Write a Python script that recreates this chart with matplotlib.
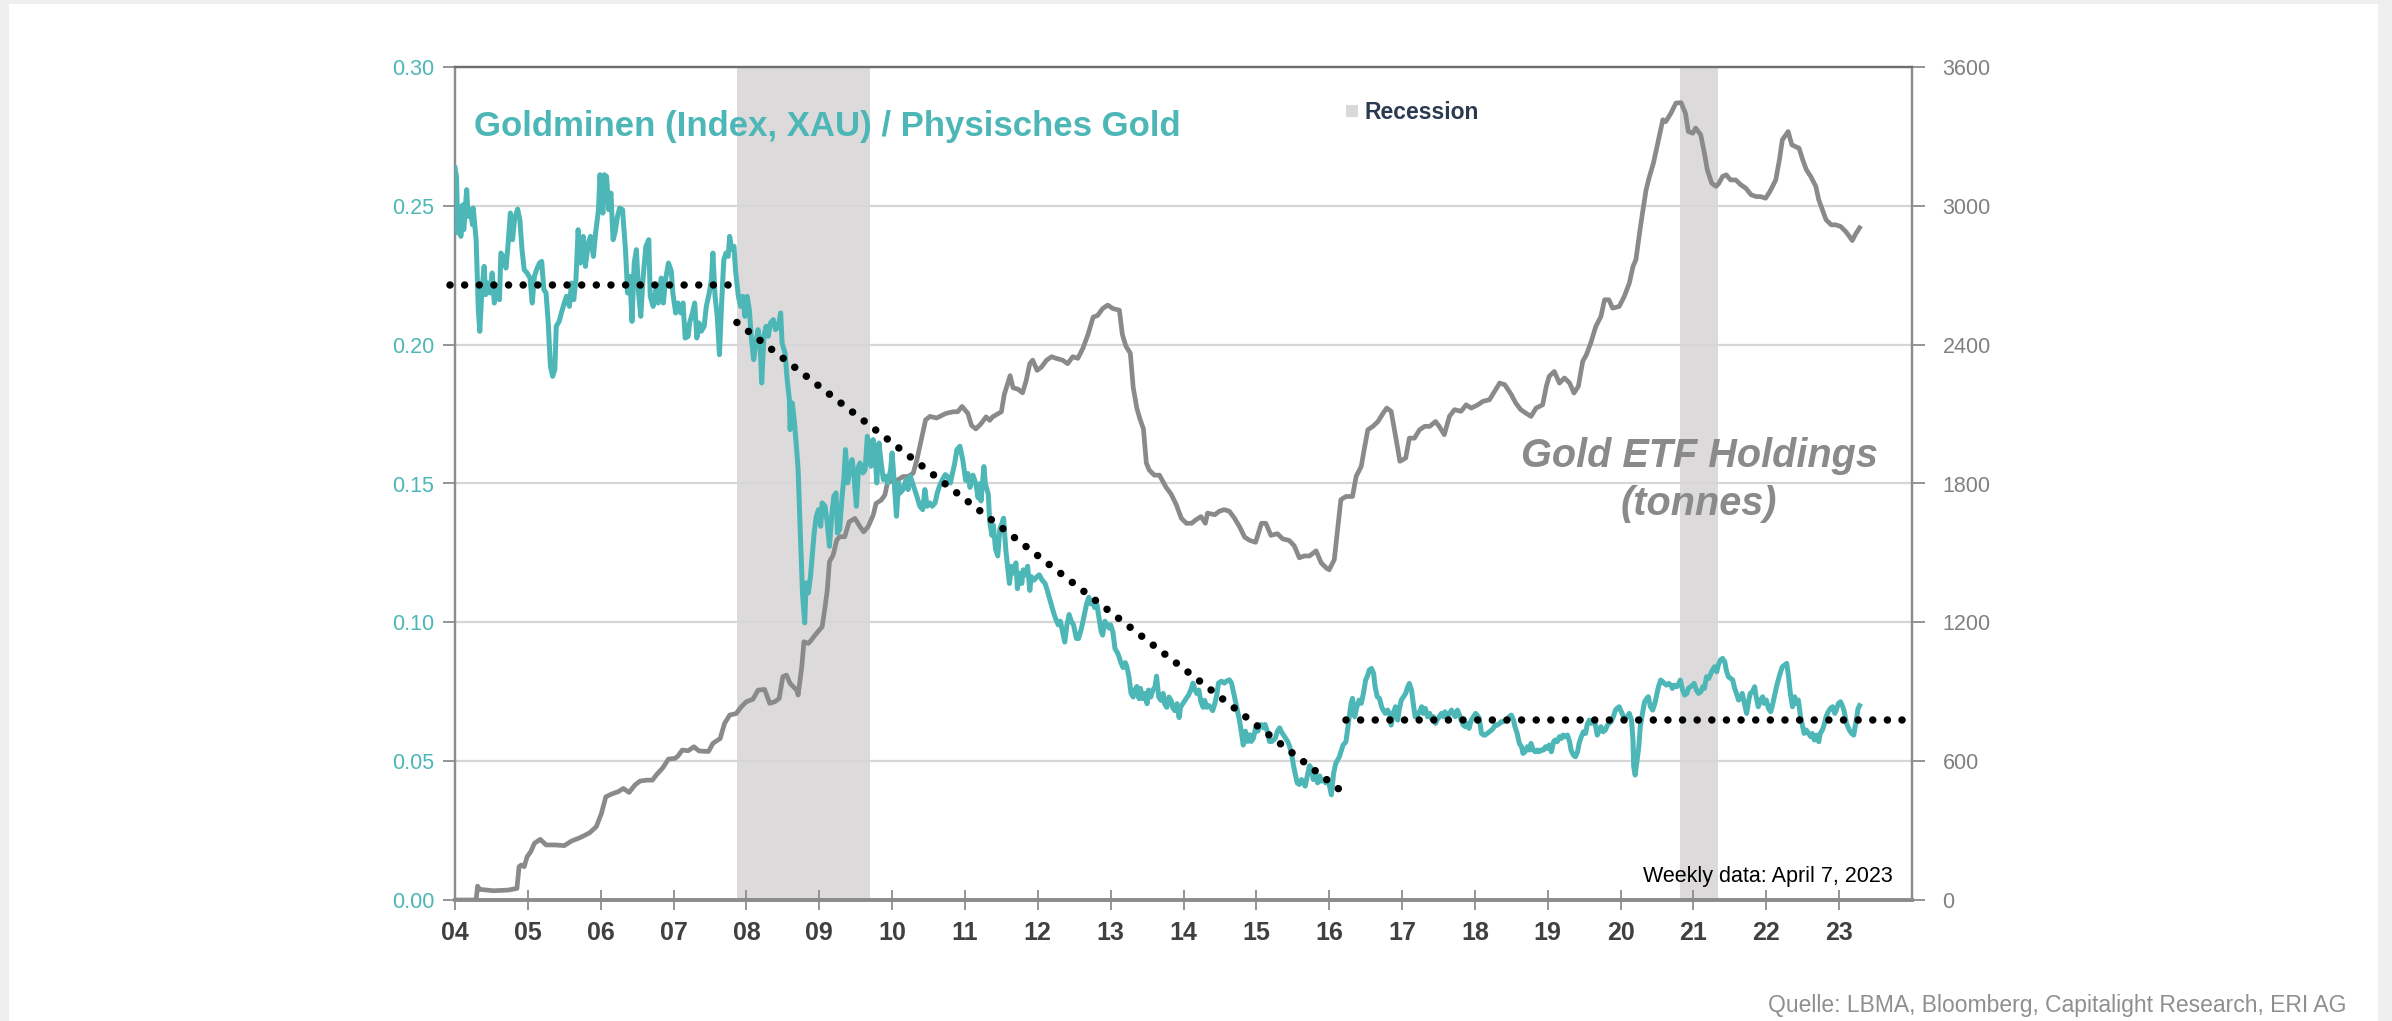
import matplotlib
matplotlib.use("Agg")
import matplotlib.pyplot as plt
from matplotlib.patches import Rectangle

plt.rcParams['font.family'] = ['Liberation Sans', 'DejaVu Sans']

# Goldminen (XAU) / physisches Gold, weekly (decimal year, ratio)
ratio_2004_2010 = [
    (2004.00, 0.2636), (2004.02, 0.2606), (2004.04, 0.2402), (2004.06, 0.2498), (2004.08, 0.2390),
    (2004.11, 0.2504), (2004.12, 0.2414), (2004.16, 0.2558), (2004.18, 0.2462), (2004.21, 0.2486),
    (2004.24, 0.2432), (2004.25, 0.2492), (2004.29, 0.2378), (2004.32, 0.2126), (2004.34, 0.2048),
    (2004.37, 0.2198), (2004.40, 0.2282), (2004.42, 0.2180), (2004.45, 0.2222), (2004.48, 0.2186),
    (2004.51, 0.2258), (2004.54, 0.2150), (2004.57, 0.2198), (2004.61, 0.2162), (2004.63, 0.2330),
    (2004.66, 0.2318), (2004.70, 0.2276), (2004.73, 0.2366), (2004.76, 0.2474), (2004.79, 0.2378),
    (2004.82, 0.2456), (2004.86, 0.2488), (2004.89, 0.2450), (2004.92, 0.2342), (2004.95, 0.2270),
    (2004.99, 0.2258), (2005.03, 0.2240), (2005.06, 0.2150), (2005.09, 0.2246), (2005.12, 0.2270),
    (2005.16, 0.2294), (2005.19, 0.2300), (2005.22, 0.2198), (2005.25, 0.2186), (2005.28, 0.2078),
    (2005.31, 0.1922), (2005.34, 0.1886), (2005.37, 0.1910), (2005.39, 0.2066), (2005.43, 0.2084),
    (2005.46, 0.2114), (2005.50, 0.2150), (2005.53, 0.2174), (2005.57, 0.2138), (2005.60, 0.2222),
    (2005.63, 0.2162), (2005.66, 0.2234), (2005.69, 0.2414), (2005.72, 0.2294), (2005.76, 0.2390),
    (2005.79, 0.2282), (2005.83, 0.2366), (2005.86, 0.2390), (2005.90, 0.2318), (2005.93, 0.2402),
    (2005.97, 0.2486), (2005.99, 0.2612), (2006.03, 0.2474), (2006.05, 0.2612), (2006.08, 0.2606),
    (2006.11, 0.2486), (2006.14, 0.2546), (2006.17, 0.2378), (2006.20, 0.2408), (2006.23, 0.2462),
    (2006.26, 0.2492), (2006.30, 0.2486), (2006.34, 0.2342), (2006.37, 0.2186), (2006.40, 0.2246),
    (2006.43, 0.2084), (2006.46, 0.2294), (2006.49, 0.2342), (2006.52, 0.2186), (2006.55, 0.2102),
    (2006.58, 0.2234), (2006.62, 0.2354), (2006.66, 0.2378), (2006.68, 0.2174), (2006.72, 0.2138),
    (2006.76, 0.2198), (2006.79, 0.2150), (2006.83, 0.2240), (2006.86, 0.2150), (2006.89, 0.2234),
    (2006.93, 0.2294), (2006.97, 0.2264), (2006.99, 0.2186), (2007.03, 0.2114), (2007.06, 0.2150),
    (2007.10, 0.2114), (2007.13, 0.2150), (2007.16, 0.2024), (2007.20, 0.2030), (2007.22, 0.2078),
    (2007.26, 0.2114), (2007.29, 0.2150), (2007.32, 0.2024), (2007.35, 0.2078), (2007.38, 0.2048),
    (2007.42, 0.2066), (2007.45, 0.2138), (2007.49, 0.2186), (2007.52, 0.2234), (2007.54, 0.2330),
    (2007.57, 0.2174), (2007.60, 0.2102), (2007.63, 0.1964), (2007.66, 0.2150), (2007.69, 0.2306),
    (2007.72, 0.2330), (2007.75, 0.2318), (2007.77, 0.2390), (2007.80, 0.2342), (2007.83, 0.2354),
    (2007.85, 0.2270), (2007.89, 0.2174), (2007.92, 0.2138), (2007.95, 0.2174), (2007.98, 0.2102),
    (2008.01, 0.2174), (2008.04, 0.2126), (2008.07, 0.2018), (2008.10, 0.1946), (2008.13, 0.2006),
    (2008.16, 0.2054), (2008.19, 0.1994), (2008.21, 0.1862), (2008.24, 0.2030), (2008.27, 0.2066),
    (2008.30, 0.2030), (2008.33, 0.2078), (2008.37, 0.2090), (2008.40, 0.2054), (2008.44, 0.2066),
    (2008.47, 0.2114), (2008.49, 0.2006), (2008.53, 0.1970), (2008.56, 0.1874), (2008.59, 0.1802),
    (2008.60, 0.1694), (2008.63, 0.1790), (2008.66, 0.1718), (2008.69, 0.1622), (2008.71, 0.1550),
    (2008.74, 0.1322), (2008.77, 0.1106), (2008.80, 0.0998), (2008.82, 0.1142), (2008.85, 0.1106),
    (2008.88, 0.1166), (2008.91, 0.1262), (2008.93, 0.1322), (2008.96, 0.1382), (2008.99, 0.1406),
    (2009.02, 0.1346), (2009.04, 0.1430), (2009.08, 0.1418), (2009.11, 0.1358), (2009.14, 0.1274),
    (2009.17, 0.1382), (2009.20, 0.1454), (2009.23, 0.1466), (2009.25, 0.1322), (2009.28, 0.1334),
    (2009.31, 0.1442), (2009.34, 0.1526), (2009.36, 0.1622), (2009.39, 0.1502), (2009.42, 0.1550),
    (2009.45, 0.1586), (2009.47, 0.1550), (2009.51, 0.1418), (2009.54, 0.1562), (2009.56, 0.1574),
    (2009.60, 0.1538), (2009.63, 0.1550), (2009.66, 0.1670), (2009.68, 0.1646), (2009.71, 0.1562),
    (2009.74, 0.1658), (2009.77, 0.1586), (2009.79, 0.1502), (2009.82, 0.1646), (2009.85, 0.1574),
    (2009.88, 0.1514), (2009.91, 0.1526), (2009.94, 0.1502), (2009.98, 0.1550), (2010.00, 0.1610),
    (2010.03, 0.1502), (2010.06, 0.1382), (2010.09, 0.1502), (2010.11, 0.1466), (2010.15, 0.1478),
    (2010.19, 0.1514), (2010.22, 0.1478), (2010.25, 0.1526), (2010.28, 0.1502), (2010.31, 0.1478),
    (2010.34, 0.1454), (2010.38, 0.1418), (2010.42, 0.1406), (2010.45, 0.1478), (2010.48, 0.1418),
    (2010.52, 0.1430), (2010.55, 0.1418), (2010.59, 0.1430), (2010.62, 0.1466), (2010.65, 0.1490),
    (2010.69, 0.1514), (2010.73, 0.1532), (2010.76, 0.1526), (2010.80, 0.1502), (2010.84, 0.1550),
    (2010.86, 0.1574), (2010.89, 0.1622), (2010.93, 0.1634),
]

ratio_2011_2015 = [
    (2010.94, 0.1623), (2010.97, 0.1585), (2011.01, 0.1511), (2011.04, 0.1536), (2011.07, 0.1486),
    (2011.11, 0.1530), (2011.15, 0.1499), (2011.18, 0.1449), (2011.20, 0.1499), (2011.22, 0.1437),
    (2011.26, 0.1561), (2011.28, 0.1499), (2011.32, 0.1462), (2011.34, 0.1363), (2011.37, 0.1313),
    (2011.39, 0.1350), (2011.42, 0.1264), (2011.45, 0.1239), (2011.48, 0.1338), (2011.50, 0.1350),
    (2011.53, 0.1375), (2011.56, 0.1264), (2011.59, 0.1189), (2011.61, 0.1140), (2011.64, 0.1202),
    (2011.67, 0.1177), (2011.70, 0.1214), (2011.72, 0.1121), (2011.75, 0.1177), (2011.78, 0.1140),
    (2011.80, 0.1189), (2011.83, 0.1171), (2011.86, 0.1202), (2011.89, 0.1115), (2011.91, 0.1165),
    (2011.95, 0.1152), (2011.99, 0.1165), (2012.02, 0.1171), (2012.06, 0.1152), (2012.10, 0.1140),
    (2012.13, 0.1115), (2012.17, 0.1078), (2012.21, 0.1041), (2012.24, 0.1016), (2012.28, 0.0991),
    (2012.31, 0.1004), (2012.35, 0.0954), (2012.37, 0.0929), (2012.40, 0.0991), (2012.43, 0.1028),
    (2012.46, 0.1004), (2012.49, 0.0991), (2012.53, 0.0942), (2012.56, 0.0942), (2012.60, 0.0979),
    (2012.63, 0.1016), (2012.67, 0.1066), (2012.70, 0.1090), (2012.73, 0.1066), (2012.76, 0.1078),
    (2012.78, 0.1053), (2012.81, 0.1066), (2012.84, 0.1016), (2012.87, 0.0967), (2012.89, 0.0954),
    (2012.92, 0.1004), (2012.95, 0.0991), (2012.98, 0.0979), (2013.00, 0.0991), (2013.03, 0.0967),
    (2013.06, 0.0905), (2013.09, 0.0892), (2013.11, 0.0880), (2013.14, 0.0855), (2013.17, 0.0837),
    (2013.20, 0.0855), (2013.22, 0.0843), (2013.25, 0.0806), (2013.28, 0.0744), (2013.31, 0.0731),
    (2013.33, 0.0756), (2013.36, 0.0769), (2013.39, 0.0725), (2013.41, 0.0762), (2013.44, 0.0725),
    (2013.47, 0.0744), (2013.50, 0.0707), (2013.52, 0.0756), (2013.55, 0.0731), (2013.58, 0.0756),
    (2013.61, 0.0769), (2013.63, 0.0806), (2013.66, 0.0731), (2013.69, 0.0719), (2013.72, 0.0744),
    (2013.74, 0.0707), (2013.77, 0.0694), (2013.80, 0.0731), (2013.83, 0.0719), (2013.85, 0.0694),
    (2013.88, 0.0682), (2013.91, 0.0707), (2013.94, 0.0657), (2013.96, 0.0694), (2013.99, 0.0707),
    (2014.02, 0.0719), (2014.05, 0.0731), (2014.07, 0.0738), (2014.10, 0.0756), (2014.13, 0.0781),
    (2014.16, 0.0756), (2014.18, 0.0744), (2014.21, 0.0756), (2014.24, 0.0713), (2014.27, 0.0694),
    (2014.29, 0.0719), (2014.32, 0.0694), (2014.35, 0.0700), (2014.37, 0.0694), (2014.40, 0.0682),
    (2014.43, 0.0707), (2014.46, 0.0744), (2014.48, 0.0781), (2014.52, 0.0788), (2014.56, 0.0781),
    (2014.59, 0.0788), (2014.63, 0.0793), (2014.66, 0.0781), (2014.69, 0.0744), (2014.71, 0.0719),
    (2014.74, 0.0682), (2014.77, 0.0645), (2014.80, 0.0595), (2014.82, 0.0558), (2014.85, 0.0608),
    (2014.88, 0.0571), (2014.91, 0.0595), (2014.93, 0.0571), (2014.96, 0.0583), (2014.99, 0.0620),
    (2015.02, 0.0608), (2015.04, 0.0620), (2015.07, 0.0632), (2015.10, 0.0620), (2015.12, 0.0632),
    (2015.15, 0.0608), (2015.18, 0.0571), (2015.21, 0.0571), (2015.24, 0.0577), (2015.26, 0.0583),
    (2015.29, 0.0608), (2015.32, 0.0620), (2015.34, 0.0608), (2015.37, 0.0595), (2015.40, 0.0583),
    (2015.43, 0.0571), (2015.45, 0.0558), (2015.48, 0.0533), (2015.51, 0.0484), (2015.54, 0.0447),
    (2015.56, 0.0422), (2015.59, 0.0416), (2015.62, 0.0434), (2015.65, 0.0422), (2015.67, 0.0410),
    (2015.70, 0.0447), (2015.73, 0.0484), (2015.76, 0.0472), (2015.78, 0.0434), (2015.81, 0.0459),
    (2015.84, 0.0422), (2015.87, 0.0447), (2015.89, 0.0428), (2015.92, 0.0434), (2015.95, 0.0422),
    (2015.98, 0.0428), (2016.00, 0.0416),
]

ratio_2016_2023 = [
    (2016.03, 0.0379), (2016.06, 0.0456), (2016.09, 0.0492), (2016.14, 0.0516), (2016.19, 0.0558),
    (2016.23, 0.0570), (2016.27, 0.0648), (2016.30, 0.0708), (2016.32, 0.0726), (2016.35, 0.0660),
    (2016.38, 0.0696), (2016.41, 0.0720), (2016.44, 0.0708), (2016.47, 0.0744), (2016.50, 0.0792),
    (2016.53, 0.0810), (2016.55, 0.0828), (2016.58, 0.0834), (2016.61, 0.0816), (2016.63, 0.0768),
    (2016.66, 0.0732), (2016.69, 0.0726), (2016.72, 0.0696), (2016.74, 0.0684), (2016.77, 0.0672),
    (2016.80, 0.0684), (2016.83, 0.0672), (2016.85, 0.0630), (2016.88, 0.0672), (2016.91, 0.0696),
    (2016.94, 0.0648), (2016.96, 0.0684), (2016.99, 0.0720), (2017.02, 0.0732), (2017.05, 0.0744),
    (2017.07, 0.0762), (2017.10, 0.0780), (2017.13, 0.0756), (2017.16, 0.0696), (2017.18, 0.0660),
    (2017.21, 0.0666), (2017.24, 0.0678), (2017.27, 0.0696), (2017.29, 0.0672), (2017.32, 0.0690),
    (2017.35, 0.0660), (2017.38, 0.0672), (2017.40, 0.0654), (2017.43, 0.0660), (2017.46, 0.0636),
    (2017.48, 0.0648), (2017.51, 0.0660), (2017.54, 0.0672), (2017.57, 0.0660), (2017.59, 0.0678),
    (2017.62, 0.0660), (2017.65, 0.0672), (2017.68, 0.0684), (2017.70, 0.0672), (2017.73, 0.0660),
    (2017.76, 0.0684), (2017.79, 0.0666), (2017.81, 0.0648), (2017.84, 0.0630), (2017.87, 0.0624),
    (2017.90, 0.0636), (2017.92, 0.0618), (2017.95, 0.0648), (2017.98, 0.0660), (2018.01, 0.0672),
    (2018.03, 0.0666), (2018.06, 0.0654), (2018.09, 0.0600), (2018.12, 0.0594), (2018.14, 0.0594),
    (2018.17, 0.0600), (2018.20, 0.0606), (2018.23, 0.0612), (2018.25, 0.0618), (2018.28, 0.0630),
    (2018.31, 0.0630), (2018.34, 0.0636), (2018.36, 0.0642), (2018.39, 0.0642), (2018.42, 0.0648),
    (2018.45, 0.0650), (2018.47, 0.0660), (2018.50, 0.0666), (2018.53, 0.0648), (2018.55, 0.0624),
    (2018.58, 0.0600), (2018.61, 0.0564), (2018.64, 0.0552), (2018.66, 0.0528), (2018.69, 0.0534),
    (2018.72, 0.0552), (2018.75, 0.0540), (2018.77, 0.0564), (2018.80, 0.0540), (2018.83, 0.0534),
    (2018.86, 0.0540), (2018.88, 0.0534), (2018.91, 0.0540), (2018.94, 0.0540), (2018.97, 0.0552),
    (2018.99, 0.0546), (2019.02, 0.0558), (2019.05, 0.0534), (2019.08, 0.0570), (2019.10, 0.0576),
    (2019.13, 0.0570), (2019.16, 0.0588), (2019.19, 0.0582), (2019.21, 0.0594), (2019.24, 0.0588),
    (2019.27, 0.0594), (2019.30, 0.0570), (2019.32, 0.0540), (2019.35, 0.0522), (2019.38, 0.0516),
    (2019.41, 0.0534), (2019.43, 0.0564), (2019.46, 0.0588), (2019.49, 0.0606), (2019.52, 0.0600),
    (2019.54, 0.0630), (2019.57, 0.0648), (2019.60, 0.0636), (2019.62, 0.0648), (2019.65, 0.0636),
    (2019.68, 0.0594), (2019.71, 0.0612), (2019.73, 0.0624), (2019.76, 0.0606), (2019.79, 0.0612),
    (2019.82, 0.0630), (2019.84, 0.0636), (2019.87, 0.0642), (2019.90, 0.0660), (2019.93, 0.0684),
    (2019.95, 0.0690), (2019.98, 0.0696), (2020.01, 0.0678), (2020.04, 0.0660), (2020.06, 0.0654),
    (2020.09, 0.0660), (2020.12, 0.0672), (2020.15, 0.0648), (2020.17, 0.0576), (2020.18, 0.0480),
    (2020.20, 0.0450), (2020.22, 0.0492), (2020.25, 0.0552), (2020.27, 0.0624), (2020.30, 0.0672),
    (2020.33, 0.0714), (2020.36, 0.0726), (2020.38, 0.0732), (2020.41, 0.0696), (2020.44, 0.0684),
    (2020.47, 0.0708), (2020.49, 0.0732), (2020.52, 0.0768), (2020.55, 0.0792), (2020.58, 0.0786),
    (2020.60, 0.0780), (2020.63, 0.0774), (2020.66, 0.0780), (2020.69, 0.0774), (2020.71, 0.0762),
    (2020.74, 0.0774), (2020.77, 0.0768), (2020.80, 0.0780), (2020.82, 0.0792), (2020.85, 0.0756),
    (2020.88, 0.0738), (2020.91, 0.0744), (2020.93, 0.0762), (2020.96, 0.0768), (2020.99, 0.0774),
    (2021.01, 0.0780), (2021.04, 0.0756), (2021.07, 0.0744), (2021.10, 0.0750), (2021.13, 0.0768),
    (2021.15, 0.0762), (2021.18, 0.0804), (2021.21, 0.0798), (2021.23, 0.0810), (2021.26, 0.0828),
    (2021.29, 0.0840), (2021.32, 0.0822), (2021.34, 0.0846), (2021.37, 0.0864), (2021.40, 0.0870),
    (2021.43, 0.0858), (2021.45, 0.0828), (2021.48, 0.0804), (2021.51, 0.0798), (2021.54, 0.0792),
    (2021.56, 0.0768), (2021.59, 0.0744), (2021.62, 0.0720), (2021.65, 0.0732), (2021.67, 0.0744),
    (2021.70, 0.0708), (2021.73, 0.0672), (2021.76, 0.0720), (2021.78, 0.0744), (2021.81, 0.0750),
    (2021.84, 0.0768), (2021.86, 0.0732), (2021.89, 0.0696), (2021.92, 0.0720), (2021.95, 0.0732),
    (2021.97, 0.0708), (2022.00, 0.0720), (2022.03, 0.0690), (2022.06, 0.0678), (2022.08, 0.0696),
    (2022.11, 0.0732), (2022.14, 0.0768), (2022.17, 0.0798), (2022.19, 0.0816), (2022.22, 0.0840),
    (2022.25, 0.0846), (2022.28, 0.0852), (2022.30, 0.0816), (2022.33, 0.0744), (2022.36, 0.0696),
    (2022.39, 0.0732), (2022.41, 0.0708), (2022.44, 0.0720), (2022.47, 0.0660), (2022.50, 0.0624),
    (2022.52, 0.0600), (2022.55, 0.0612), (2022.58, 0.0600), (2022.61, 0.0588), (2022.63, 0.0600),
    (2022.66, 0.0576), (2022.69, 0.0594), (2022.72, 0.0570), (2022.74, 0.0600), (2022.77, 0.0612),
    (2022.80, 0.0636), (2022.82, 0.0660), (2022.85, 0.0678), (2022.88, 0.0690), (2022.91, 0.0696),
    (2022.94, 0.0672), (2022.96, 0.0684), (2022.99, 0.0708), (2023.02, 0.0714), (2023.05, 0.0696),
    (2023.07, 0.0678), (2023.10, 0.0636), (2023.14, 0.0612), (2023.17, 0.0600), (2023.20, 0.0594),
    (2023.23, 0.0640), (2023.26, 0.0690), (2023.28, 0.0700),
]

# Gold ETF holdings in tonnes (decimal year, tonnes)
etf_tonnes = [
    (2004.00, 0), (2004.29, 0), (2004.31, 60), (2004.34, 46), (2004.53, 40), (2004.73, 43),
    (2004.85, 50), (2004.88, 144), (2004.91, 151), (2004.95, 144), (2004.99, 187), (2005.04, 209),
    (2005.09, 245), (2005.17, 262), (2005.25, 238), (2005.37, 238), (2005.50, 235), (2005.60, 255),
    (2005.69, 266), (2005.76, 276), (2005.85, 291), (2005.94, 317), (2006.01, 374), (2006.07, 446),
    (2006.15, 458), (2006.24, 468), (2006.31, 482), (2006.39, 465), (2006.47, 497), (2006.54, 514),
    (2006.63, 518), (2006.71, 518), (2006.77, 543), (2006.85, 570), (2006.93, 609), (2007.02, 612),
    (2007.06, 622), (2007.12, 648), (2007.20, 645), (2007.28, 662), (2007.35, 644), (2007.48, 642),
    (2007.54, 677), (2007.64, 698), (2007.70, 763), (2007.77, 799), (2007.86, 806), (2007.93, 835),
    (2008.00, 857), (2008.09, 868), (2008.16, 907), (2008.25, 910), (2008.32, 850), (2008.39, 857),
    (2008.45, 871), (2008.50, 965), (2008.55, 972), (2008.60, 936), (2008.69, 907), (2008.71, 886),
    (2008.76, 1008), (2008.79, 1116), (2008.85, 1109), (2008.89, 1123), (2008.96, 1152), (2009.04, 1181),
    (2009.08, 1267), (2009.11, 1339), (2009.14, 1462), (2009.19, 1490), (2009.24, 1555), (2009.28, 1570),
    (2009.35, 1570), (2009.41, 1634), (2009.49, 1649), (2009.56, 1613), (2009.61, 1591), (2009.67, 1613),
    (2009.74, 1663), (2009.78, 1714), (2009.85, 1728), (2009.90, 1750), (2009.94, 1807), (2010.05, 1810),
    (2010.15, 1830), (2010.22, 1830), (2010.29, 1845), (2010.34, 1902), (2010.40, 1989), (2010.46, 2075),
    (2010.52, 2090), (2010.61, 2083), (2010.74, 2103), (2010.84, 2110), (2010.90, 2110), (2010.96, 2133),
    (2011.04, 2103), (2011.09, 2051), (2011.15, 2036), (2011.22, 2058), (2011.29, 2088), (2011.34, 2073),
    (2011.38, 2088), (2011.50, 2110), (2011.54, 2185), (2011.62, 2266), (2011.66, 2214), (2011.73, 2207),
    (2011.79, 2192), (2011.84, 2244), (2011.89, 2318), (2011.93, 2333), (2011.99, 2289), (2012.05, 2303),
    (2012.12, 2333), (2012.19, 2348), (2012.25, 2341), (2012.34, 2333), (2012.41, 2318), (2012.48, 2348),
    (2012.55, 2341), (2012.62, 2385), (2012.69, 2445), (2012.76, 2519), (2012.82, 2526), (2012.89, 2556),
    (2012.96, 2571), (2013.03, 2556), (2013.12, 2549), (2013.16, 2445), (2013.21, 2393), (2013.27, 2363),
    (2013.31, 2214), (2013.36, 2125), (2013.40, 2081), (2013.45, 2036), (2013.49, 1888), (2013.53, 1858),
    (2013.60, 1836), (2013.67, 1836), (2013.76, 1784), (2013.83, 1754), (2013.90, 1709), (2013.97, 1650),
    (2014.04, 1628), (2014.11, 1628), (2014.17, 1643), (2014.24, 1657), (2014.30, 1628), (2014.33, 1672),
    (2014.43, 1665), (2014.49, 1680), (2014.56, 1687), (2014.63, 1680), (2014.70, 1650), (2014.77, 1613),
    (2014.84, 1568), (2014.91, 1554), (2014.99, 1546), (2015.07, 1628), (2015.13, 1628), (2015.20, 1576),
    (2015.29, 1583), (2015.36, 1561), (2015.45, 1554), (2015.52, 1531), (2015.59, 1479), (2015.66, 1487),
    (2015.73, 1487), (2015.82, 1509), (2015.89, 1457), (2015.96, 1435), (2016.00, 1427), (2016.07, 1471),
    (2016.12, 1615), (2016.16, 1730), (2016.23, 1744), (2016.32, 1744), (2016.37, 1831), (2016.44, 1874),
    (2016.48, 1946), (2016.53, 2032), (2016.60, 2047), (2016.67, 2068), (2016.74, 2104), (2016.79, 2126),
    (2016.85, 2112), (2016.92, 1989), (2016.97, 1896), (2017.05, 1910), (2017.10, 1996), (2017.17, 1996),
    (2017.24, 2032), (2017.31, 2047), (2017.38, 2047), (2017.46, 2068), (2017.51, 2047), (2017.58, 2011),
    (2017.65, 2090), (2017.72, 2119), (2017.81, 2112), (2017.88, 2140), (2017.95, 2126), (2018.04, 2140),
    (2018.11, 2155), (2018.20, 2162), (2018.27, 2198), (2018.34, 2234), (2018.41, 2227), (2018.50, 2184),
    (2018.56, 2148), (2018.63, 2119), (2018.70, 2104), (2018.77, 2090), (2018.84, 2126), (2018.93, 2140),
    (2018.98, 2220), (2019.02, 2263), (2019.09, 2284), (2019.16, 2234), (2019.23, 2256), (2019.30, 2234),
    (2019.36, 2191), (2019.42, 2220), (2019.48, 2328), (2019.53, 2356), (2019.59, 2407), (2019.66, 2479),
    (2019.73, 2522), (2019.78, 2594), (2019.84, 2594), (2019.89, 2558), (2019.98, 2565), (2020.05, 2608),
    (2020.12, 2666), (2020.17, 2738), (2020.21, 2767), (2020.26, 2882), (2020.30, 2968), (2020.35, 3069),
    (2020.39, 3120), (2020.45, 3184), (2020.51, 3271), (2020.58, 3372), (2020.62, 3364), (2020.69, 3400),
    (2020.76, 3444), (2020.83, 3446), (2020.89, 3400), (2020.93, 3321), (2020.99, 3314), (2021.03, 3336),
    (2021.10, 3307), (2021.15, 3228), (2021.19, 3156), (2021.25, 3098), (2021.31, 3084), (2021.35, 3098),
    (2021.40, 3127), (2021.45, 3134), (2021.51, 3112), (2021.58, 3112), (2021.65, 3091), (2021.72, 3076),
    (2021.79, 3048), (2021.86, 3040), (2021.92, 3040), (2021.99, 3033), (2022.05, 3062), (2022.13, 3112),
    (2022.18, 3199), (2022.22, 3285), (2022.27, 3307), (2022.30, 3321), (2022.35, 3264), (2022.40, 3256),
    (2022.45, 3249), (2022.50, 3199), (2022.55, 3156), (2022.61, 3127), (2022.68, 3084), (2022.72, 3026),
    (2022.77, 2983), (2022.82, 2940), (2022.89, 2918), (2022.95, 2918), (2023.02, 2911), (2023.09, 2889),
    (2023.14, 2868), (2023.18, 2850), (2023.22, 2875), (2023.28, 2905),
]

# dotted trend segments on the ratio axis
trend_flat_pre = ([2003.93, 2007.90], [0.2214, 0.2214])
trend_down = ([2007.87, 2016.18], [0.2080, 0.0390])
trend_flat_post = ([2016.23, 2023.98], [0.0650, 0.0650])

recessions = [(2007.87, 2009.69), (2020.81, 2021.34)]

years = list(range(2004, 2024))
year_labels = [f"{y % 100:02d}" for y in years]
ratio_ticks = [0.00, 0.05, 0.10, 0.15, 0.20, 0.25, 0.30]
tonne_ticks = [0, 600, 1200, 1800, 2400, 3000, 3600]

TEAL = '#4db6b6'
GREY = '#8a8a8a'
SPINE = '#8c8c8c'

fig = plt.figure(figsize=(23.92, 10.21), dpi=100, facecolor='#efefef')
fig.patches.append(Rectangle((9 / 2392, 0), (2378 - 9) / 2392, 1 - 4 / 1021,
                             transform=fig.transFigure, facecolor='white',
                             edgecolor='none', zorder=0))

ax2 = fig.add_axes([455 / 2392, 121 / 1021, 1457 / 2392, 833 / 1021])
ax = ax2.twinx()
ax.yaxis.tick_left()
ax2.yaxis.tick_right()
ax.set_zorder(3)
ax2.set_zorder(2)
ax.patch.set_visible(False)

# recession bands and grid on the lower (tonnes) axes
for r0, r1 in recessions:
    ax2.axvspan(r0, r1, color='#dcdadb', lw=0, zorder=0.2)
ax2.set_axisbelow(True)
ax2.yaxis.grid(True, color='#d6d6d6', lw=1.6)

etf_x = [p[0] for p in etf_tonnes]
etf_y = [p[1] for p in etf_tonnes]
ax2.plot(etf_x, etf_y, color=GREY, lw=3.4, solid_joinstyle='round', zorder=3)

ratio_all = ratio_2004_2010 + ratio_2011_2015 + ratio_2016_2023
ax.plot([p[0] for p in ratio_all], [p[1] for p in ratio_all], color=TEAL, lw=3.6,
        solid_joinstyle='round', zorder=3)

dots = dict(color='black', lw=5.4, linestyle=(0, (0.001, 1.95)),
            dash_capstyle='round', zorder=4, clip_on=False)
for tx, ty in (trend_flat_pre, trend_down, trend_flat_post):
    ax.plot(tx, ty, **dots)

ax.set_xlim(2004, 2024)
ax.set_ylim(0, 0.30)
ax2.set_ylim(0, 3600)

ax2.set_xticks(years)
ax2.set_xticklabels(year_labels)
ax2.tick_params(axis='x', direction='inout', length=14, width=1.3, color=SPINE,
                labelsize=18, labelcolor='#404040', pad=8)
for lab in ax2.get_xticklabels():
    lab.set_fontweight('bold')

ax.set_yticks(ratio_ticks)
ax.set_yticklabels([f"{v:.2f}" for v in ratio_ticks])
ax.tick_params(axis='y', direction='out', length=9, width=1.3, color=SPINE,
               labelsize=15.5, labelcolor=TEAL, pad=6)
ax2.set_yticks(tonne_ticks)
ax2.set_yticklabels([str(v) for v in tonne_ticks])
ax2.tick_params(axis='y', direction='out', length=9, width=1.3, color=SPINE,
                labelsize=15.5, labelcolor='#808080', pad=13)

for a in (ax, ax2):
    for side in ('left', 'right', 'top'):
        a.spines[side].set_color(SPINE)
        a.spines[side].set_linewidth(1.6)
    a.spines['bottom'].set_color(SPINE)
    a.spines['bottom'].set_linewidth(2.6)
ax.spines['top'].set_color('#6e6e6e')

fig.text(474 / 2392, 1 - 136 / 1021, 'Goldminen (Index, XAU) / Physisches Gold',
         color=TEAL, fontsize=25, fontweight='bold', va='baseline', ha='left')

fig.patches.append(Rectangle((1346 / 2392, 1 - 117 / 1021), 12 / 2392, 12 / 1021,
                             transform=fig.transFigure, facecolor='#d9d9d9',
                             edgecolor='none', zorder=5))
fig.text(1364 / 2392, 1 - 119 / 1021, 'Recession', color='#2b3a4f', fontsize=16.5,
         fontweight='bold', va='baseline', ha='left')

fig.text(1699 / 2392, 1 - 467 / 1021, 'Gold ETF Holdings', color=GREY, fontsize=28.5,
         fontweight='bold', fontstyle='italic', va='baseline', ha='center')
fig.text(1699 / 2392, 1 - 515 / 1021, '(tonnes)', color=GREY, fontsize=28.5,
         fontweight='bold', fontstyle='italic', va='baseline', ha='center')

fig.text(1893 / 2392, 1 - 882 / 1021, 'Weekly data: April 7, 2023', color='black',
         fontsize=15.5, va='baseline', ha='right')
fig.text(2347 / 2392, 1 - 1012 / 1021, 'Quelle: LBMA, Bloomberg, Capitalight Research, ERI AG',
         color='#8f8f8f', fontsize=16.5, va='baseline', ha='right')

fig.savefig('out.png', dpi=100, facecolor=fig.get_facecolor())
